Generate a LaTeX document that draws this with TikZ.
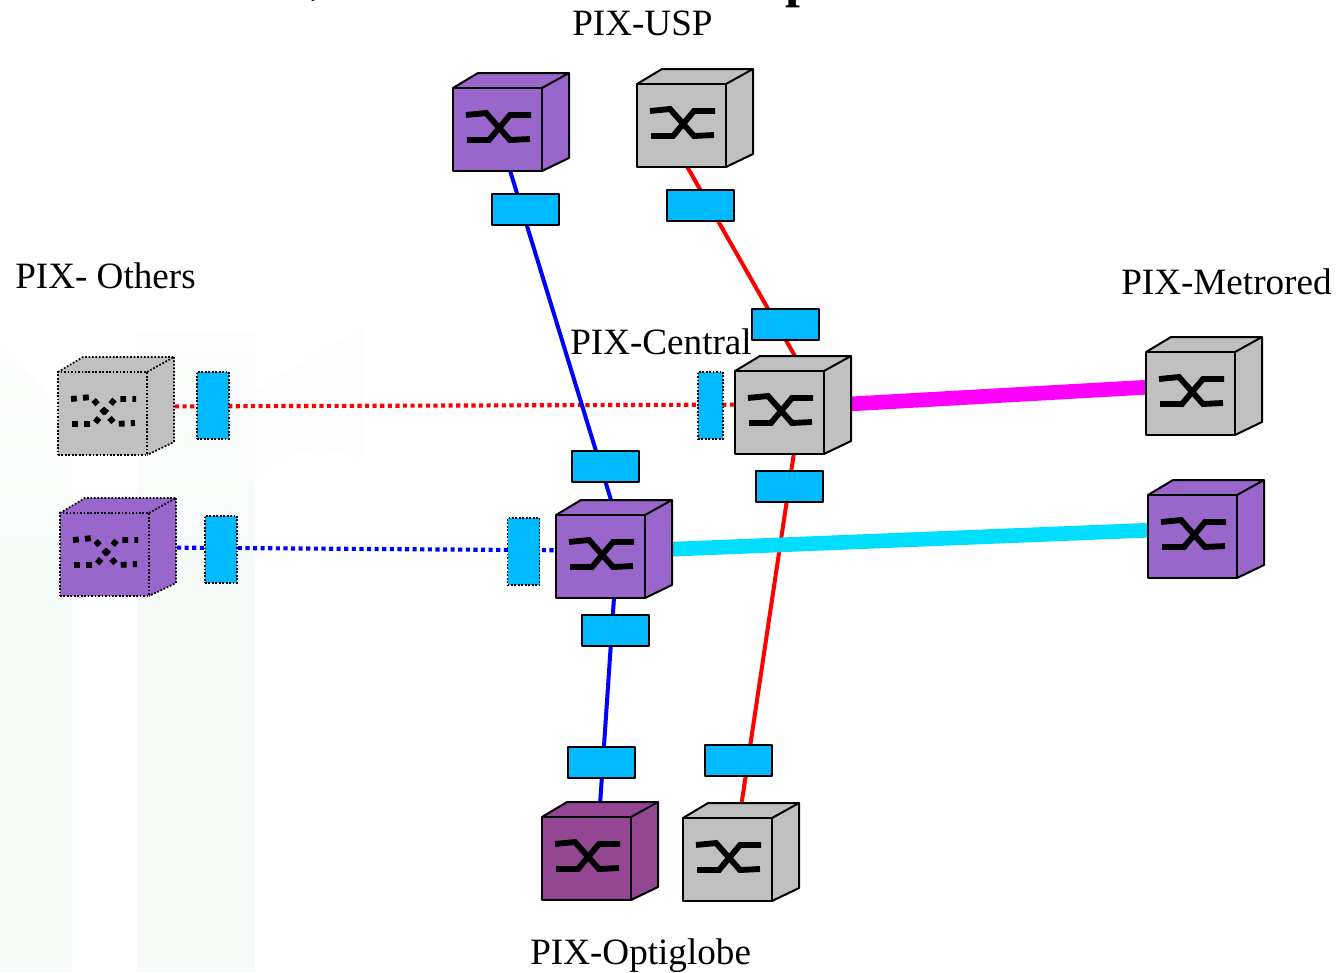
\documentclass[tikz,border=0pt]{standalone}
\usepackage{fontspec}
\setmainfont{Liberation Serif}
\pgfdeclarelayer{backlayer}
\pgfdeclarelayer{edgelayer}
\pgfsetlayers{backlayer,edgelayer,main}
\definecolor{purplebox}{HTML}{9966CC}
\definecolor{plumbox}{HTML}{934793}
\definecolor{greybox}{HTML}{C0C0C0}
\definecolor{brickblue}{HTML}{00B9FF}
\definecolor{linkcyan}{HTML}{00DDFF}
\definecolor{linkpink}{HTML}{FF00FF}
\definecolor{linkblue}{HTML}{0000FF}
\definecolor{linkred}{HTML}{FF0000}
\definecolor{markcolor}{HTML}{F7FBF8}
\definecolor{markfade}{HTML}{FCFDFC}
\tikzstyle{front} = [
                     rectangle,
                     inner sep=0pt,
                     outer sep=0pt,
                     minimum width=66.75pt,
                     minimum height=62.25pt
                    ]
\tikzstyle{edgesolid}  = [draw=black, line width=1.5pt, line join=round]
\tikzstyle{edgedotted} = [draw=black, line width=1.3pt, dash pattern=on 1.3pt off 1.3pt]
\tikzstyle{swsolid}    = [line width=4.4pt]
\tikzstyle{swdotted}   = [line width=4.4pt, dash pattern=on 4.4pt off 4.6pt]
\tikzstyle{brick} = [rectangle, fill=brickblue, inner sep=0pt, outer sep=0pt]
\tikzstyle{brickh} = [brick, edgesolid, minimum width=50.25pt, minimum height=23.25pt]
\tikzstyle{brickv} = [brick, edgedotted, minimum width=24pt, minimum height=50.25pt]
\tikzstyle{brickn} = [brick, edgedotted, minimum width=18.75pt, minimum height=50.25pt]
\tikzstyle{link}  = [line width=3pt]
\tikzstyle{dots}  = [line width=3.1pt, dash pattern=on 3.1pt off 2.6pt, dash phase=1.8pt]
\tikzstyle{thicklink} = [line width=11pt]
\tikzstyle{label} = [anchor=base west, inner sep=0pt, font=\fontsize{27.85}{30}\selectfont]
\tikzstyle{title} = [anchor=base west, inner sep=0pt, font=\fontsize{40}{44}\selectfont\bfseries]
% name, left, top, colour, solid or dotted
\newcommand{\cube}[5]{
  \begin{scope}[shift={(#2,#3)}]
    \fill[#4] (0,0) -- (25,-15) -- (116,-15) -- (116,70) -- (89,83) -- (0,83) -- cycle;
    \draw[edge#5] (0,0) -- (25,-15) -- (116,-15) -- (89,0);
    \draw[edge#5] (116,-15) -- (116,70) -- (89,83);
    \node[front, edge#5, fill=#4] (#1) at (44.5,41.5) {};
    \draw[sw#5] (13,27) -- (33,25) -- (57,52) -- (77,51);
    \draw[sw#5] (14,52) -- (36,52) -- (57,27) -- (78,27);
  \end{scope}
}
\begin{document}
\begin{tikzpicture}[x=0.75pt,y=-0.75pt]
  \useasboundingbox (0,0) rectangle (1338,972);

  % Watermark
  \begin{pgfonlayer}{backlayer}
    \shade[top color=markfade, bottom color=markcolor] (0,345) -- (72,420) -- (72,560) -- (0,560) -- cycle;
    \shade[top color=markfade, bottom color=markcolor] (137,333) -- (255,333) -- (255,560) -- (137,560) -- cycle;
    \fill[markcolor] (0,560) rectangle (72,972);
    \fill[markcolor] (137,560) rectangle (255,972);
    \fill[markfade] (255,390) -- (362,327) -- (362,460) .. controls (320,440) and (280,450) .. (255,480) -- cycle;
  \end{pgfonlayer}

  % Nodes
  \cube{uspP}{453}{88}{purplebox}{solid}
  \cube{uspG}{637}{84}{greybox}{solid}
  \cube{otherG}{58}{372}{greybox}{dotted}
  \cube{otherP}{60}{513}{purplebox}{dotted}
  \cube{centralG}{735}{371}{greybox}{solid}
  \cube{centralP}{556}{515}{purplebox}{solid}
  \cube{metroG}{1146}{352}{greybox}{solid}
  \cube{metroP}{1148}{495}{purplebox}{solid}
  \cube{optiP}{542}{817}{plumbox}{solid}
  \cube{optiG}{683}{818}{greybox}{solid}

  \node[brickh] (b1) at (525,209.7) {};
  \node[brickh] (b2) at (700.5,205.7) {};
  \node[brickh] (b3) at (785.5,324.7) {};
  \node[brickh] (b4) at (605.5,466.7) {};
  \node[brickh] (b5) at (789.5,486.7) {};
  \node[brickh] (b6) at (615.5,630.7) {};
  \node[brickh] (b7) at (601.5,762.7) {};
  \node[brickh] (b8) at (738,760.7) {};
  \node[brickv] (b9) at (213,405.3) {};
  \node[brickv] (b10) at (221,549.3) {};
  \node[brickn] (b11) at (710.5,405.3) {};
  \node[brickv] (b12) at (523.5,551.7) {};

  \node[label] (usp) at (572,35) {PIX-USP};
  \node[label] (others) at (15,288) {PIX- Others};
  \node[label] (central) at (570,354) {PIX-Central};
  \node[label] (metro) at (1121,294) {PIX-Metrored};
  \node[label] (opti) at (530,964) {PIX-Optiglobe};
  \node[title] (titleA) at (311,-7) {,};
  \node[title] (titleB) at (785,-4) {p};

  % Edges
  \begin{pgfonlayer}{edgelayer}
    \draw[dots, linkred] (otherG.9) -- (centralG.170);
    \draw[dots, linkblue] (otherP.9.6) -- (centralP.172);
    \draw[link, linkred] (uspG.-82) -- (centralG.60);
    \draw[link, linkred] (centralG.-71) -- (optiG.74.5);
    \draw[link, linkblue] (uspP) -- (centralP.70);
    \draw[link, linkblue] (centralP.-72) -- (optiP.73);
    \draw[thicklink, linkpink] (centralG.9) -- (metroG.172);
    \draw[thicklink, linkcyan] (centralP.8.3) -- (metroP.172);
  \end{pgfonlayer}

\end{tikzpicture}
\end{document}
